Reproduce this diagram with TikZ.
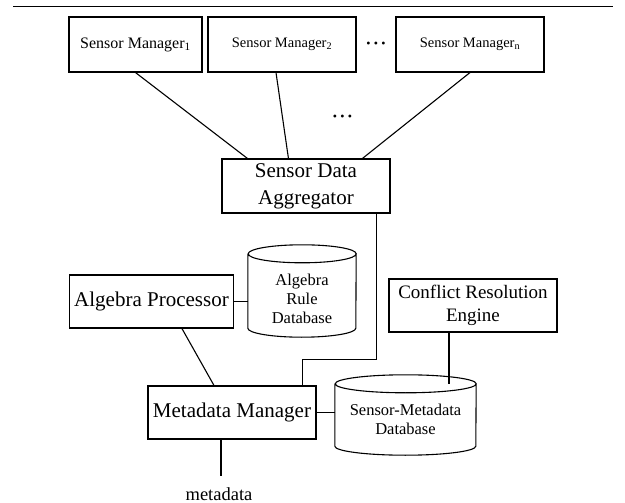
\documentclass[tikz,border=0pt]{standalone}
\usepackage{fontspec}
\setmainfont{Liberation Serif}
\usetikzlibrary{calc}
\tikzset{
  box/.style={draw, line width=1.1pt, inner sep=0pt, align=center},
  cylbody/.style={draw=none, inner sep=0pt},
  dbtext/.style={align=center, inner sep=0pt, font=\fontsize{16.5}{19}\selectfont},
  conn/.style={line width=1.1pt},
  dotsnode/.style={inner sep=0pt, font=\fontsize{12}{12}\selectfont}
}
\newcommand{\cylpath}[3]{% name, half width, ry
  \draw[conn] ([yshift=-#3pt]#1.north west) -- ([yshift=#3pt]#1.south west)
    arc[start angle=180, end angle=360, x radius=#2pt, y radius=#3pt]
    -- ([yshift=-#3pt]#1.north east)
    arc[start angle=0, end angle=180, x radius=#2pt, y radius=#3pt]
    arc[start angle=180, end angle=360, x radius=#2pt, y radius=#3pt];
}
\begin{document}
\begin{tikzpicture}[x=1pt, y=-1pt]
\useasboundingbox (0,0) rectangle (625,503);
% top rule
\coordinate (ruleL) at (13,6.5);
\coordinate (ruleR) at (613,6.5);
\draw[line width=1.6pt] (ruleL) -- (ruleR);

% sensor managers
\node[box, minimum width=133pt, minimum height=55pt, font=\fontsize{16}{19}\selectfont] (sm1) at (135.5,44.5) {Sensor Manager\textsubscript{1}};
\node[box, minimum width=148pt, minimum height=55pt, font=\fontsize{14.5}{17}\selectfont] (sm2) at (282,44.5) {Sensor Manager\textsubscript{2}};
\node[box, minimum width=148pt, minimum height=55pt, font=\fontsize{14.5}{17}\selectfont] (smn) at (470,44.5) {Sensor Manager\textsubscript{n}};
\node[dotsnode] (dots1) at (376,45) {•\hspace{3.3pt}•\hspace{3.3pt}•};

% aggregator
\node[box, minimum width=168pt, minimum height=54pt, font=\fontsize{21}{27}\selectfont] (agg) at (306,186) {Sensor Data\\Aggregator};
\node[dotsnode] (dots2) at (342.5,118) {•\hspace{3.3pt}•\hspace{3.3pt}•};

\draw[conn] (sm1.south) -- ([xshift=26pt]agg.north west);
\draw[conn] ([xshift=-6pt]sm2.south) -- ([xshift=67pt]agg.north west);
\draw[conn] (smn.south) -- ([xshift=141pt]agg.north west);

% algebra processor and rule database
\node[box, minimum width=164pt, minimum height=53pt, font=\fontsize{21}{26}\selectfont] (ap) at (151.5,301.5) {Algebra Processor};
\node[cylbody, minimum width=108pt, minimum height=92pt] (ardb) at (302,291) {};
\cylpath{ardb}{54}{9}
\node[dbtext] (ardbt) at (302,298.5) {Algebra\\Rule\\Database};
\draw[conn] (ap.east) -- (ap.east -| ardb.west);

% conflict resolution engine
\node[box, minimum width=168pt, minimum height=53pt, font=\fontsize{19}{23}\selectfont] (cre) at (473,305.5) {Conflict Resolution\\Engine};

% metadata manager
\node[box, minimum width=168pt, minimum height=53pt, font=\fontsize{21}{26}\selectfont] (mm) at (232,412.5) {Metadata Manager};

% sensor-metadata database
\node[cylbody, minimum width=141pt, minimum height=80pt] (smdb) at (405.5,415) {};
\cylpath{smdb}{70.5}{9}
\node[dbtext] (smdbt) at (405.5,419.5) {Sensor-Metadata\\Database};

% connectors
\draw[conn] ([xshift=-14pt]agg.south east) -- ++(0,146) -| ([xshift=-14pt]mm.north east);
\draw[conn] ([xshift=113pt]ap.south west) -- ([xshift=-18pt]mm.north);
\draw[conn] (mm.east) -- (mm.east -| smdb.west);
\coordinate (crefoot) at ([xshift=-24pt]cre.south);
\coordinate (smdbtop) at ([yshift=-9pt]smdb.north);
\draw[conn] (crefoot) -- (crefoot |- smdbtop);

% output
\node[inner sep=3pt, font=\fontsize{18.5}{22}\selectfont] (md) at (219,494) {metadata};
\draw[conn, shorten >=8pt] ([xshift=-11pt]mm.south) -- ([xshift=2pt]md.north);
\end{tikzpicture}
\end{document}
